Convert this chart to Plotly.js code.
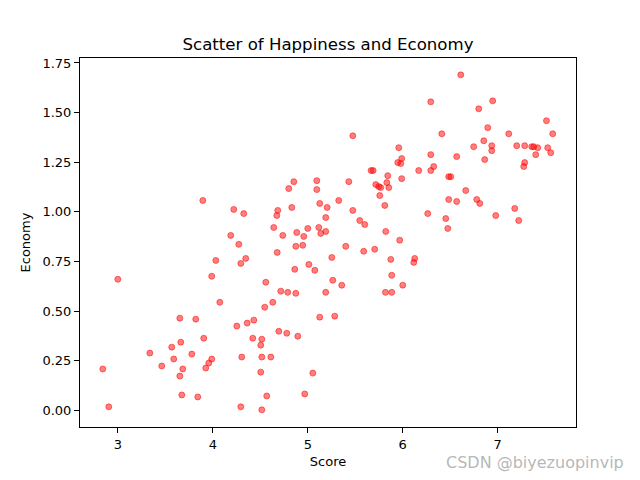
<!DOCTYPE html>
<html>
<head>
<meta charset="utf-8">
<script src="https://cdn.plot.ly/plotly-3.0.1.min.js"></script>
<style>html,body{margin:0;padding:0;background:#fff;}#chart{width:640px;height:480px;}</style>
</head>
<body>
<div id="chart"></div>
<script>
// Happiness score (x) and Economy (GDP per capita) (y)
const score = [
  4.274, 4.032, 4.347, 4.295, 3.000, 3.989, 4.074, 3.653, 3.821, 4.253,
  4.362, 3.663, 3.568, 3.905, 3.337, 3.589, 3.779, 3.989, 3.958, 3.926,
  4.305, 3.463, 3.684, 2.842, 3.653, 3.674, 3.842, 2.905, 4.295, 4.874,
  4.947, 5.400, 4.678, 5.253, 5.589, 5.705, 5.968, 5.874, 5.011, 5.074,
  4.863, 5.884, 4.558, 5.263, 5.358, 6.000, 4.716, 4.789, 4.874, 5.189,
  5.818, 5.884, 4.632, 4.547, 5.126, 5.284, 4.432, 4.695, 4.779, 4.895,
  4.421, 4.516, 4.505, 4.516, 4.611, 4.505, 5.053, 4.568, 4.968, 4.516,
  4.853, 5.095, 4.800, 5.095, 3.895, 4.221, 4.326, 4.684, 4.674, 4.832,
  5.126, 5.204, 5.189, 4.642, 4.737, 4.884, 5.000, 5.116, 5.137, 5.189,
  4.958, 4.189, 6.295, 6.411, 5.474, 5.958, 6.295, 5.989, 5.947, 5.979,
  6.168, 6.295, 6.326, 5.688, 5.667, 5.842, 5.989, 6.484, 5.432, 5.716,
  5.747, 5.768, 5.832, 5.853, 5.758, 5.811, 5.326, 5.474, 5.547, 5.600,
  6.263, 6.453, 6.474, 5.821, 6.611, 6.947, 6.800, 7.513, 7.579, 7.116,
  6.895, 6.853, 6.937, 6.937, 6.747, 7.200, 7.284, 7.358, 7.379, 7.421,
  7.526, 7.558, 7.400, 6.568, 6.863, 7.284, 7.274, 6.505, 6.663, 6.484,
  6.568, 6.779, 6.811, 6.979, 7.179, 7.221, 6.126, 6.116
];
const economy = [
  0.836, 0.755, 0.765, 0.740, 0.660, 0.675, 0.544, 0.464, 0.459, 0.424,
  0.439, 0.343, 0.318, 0.363, 0.288, 0.258, 0.283, 0.258, 0.238, 0.213,
  0.268, 0.223, 0.208, 0.208, 0.172, 0.077, 0.067, 0.017, 0.017, 0.826,
  0.831, 0.826, 0.795, 0.770, 0.801, 0.811, 0.857, 0.760, 0.735, 0.705,
  0.710, 0.680, 0.645, 0.655, 0.630, 0.630, 0.600, 0.594, 0.589, 0.594,
  0.594, 0.594, 0.544, 0.519, 0.469, 0.474, 0.454, 0.398, 0.388, 0.373,
  0.363, 0.358, 0.328, 0.268, 0.268, 0.192, 0.187, 0.072, 0.082, 0.002,
  1.152, 1.157, 1.117, 1.112, 1.057, 1.012, 0.991, 1.007, 0.981, 1.022,
  1.042, 1.022, 0.971, 0.921, 0.881, 0.896, 0.916, 0.921, 0.891, 0.901,
  0.876, 0.881, 1.554, 1.393, 1.383, 1.323, 1.288, 1.268, 1.248, 1.243,
  1.208, 1.208, 1.228, 1.208, 1.208, 1.182, 1.167, 1.177, 1.152, 1.137,
  1.127, 1.122, 1.147, 1.122, 1.082, 1.032, 1.057, 1.007, 0.956, 0.936,
  0.991, 0.966, 0.916, 0.901, 1.690, 1.559, 1.519, 1.459, 1.393, 1.393,
  1.424, 1.358, 1.333, 1.308, 1.328, 1.333, 1.333, 1.328, 1.328, 1.323,
  1.323, 1.298, 1.288, 1.278, 1.263, 1.248, 1.228, 1.177, 1.107, 1.062,
  1.052, 1.062, 1.042, 0.981, 1.017, 0.956, 0.765, 0.745
];
const yTicks = [0, 0.25, 0.5, 0.75, 1.0, 1.25, 1.5, 1.75];
const xTicks = [3, 4, 5, 6, 7];

const font = "DejaVu Sans, Liberation Sans, sans-serif";

const trace = {
  type: "scatter",
  mode: "markers",
  x: score,
  y: economy,
  marker: {
    color: "rgba(255,0,0,0.5)",
    size: 6,
    line: {color: "rgba(255,0,0,0.5)", width: 1}
  },
  hoverinfo: "x+y"
};

const axisCommon = {
  showgrid: false,
  zeroline: false,
  showline: true,
  mirror: true,
  linecolor: "#000",
  linewidth: 1,
  ticks: "outside",
  ticklen: 5,
  tickwidth: 1,
  tickcolor: "#000",
  tickfont: {family: font, size: 13, color: "#000"},
  automargin: false
};

const layout = {
  width: 640,
  height: 480,
  paper_bgcolor: "#fff",
  plot_bgcolor: "#fff",
  showlegend: false,
  margin: {l: 80, r: 64, t: 58, b: 53, pad: 0},
  title: {
    text: "Scatter of Happiness and Economy",
    font: {family: font, size: 16.6, color: "#000"},
    xref: "paper", x: 0.5, xanchor: "center",
    yref: "container", y: 1 - 44 / 480, yanchor: "middle"
  },
  xaxis: Object.assign({}, axisCommon, {
    range: [2.602, 7.824],
    tickvals: xTicks,
    ticktext: xTicks.map(String),
    title: {text: "Score", font: {family: font, size: 13, color: "#000"}, standoff: 6}
  }),
  yaxis: Object.assign({}, axisCommon, {
    range: [-0.0845, 1.775],
    tickvals: yTicks,
    ticktext: yTicks.map(v => v.toFixed(2)),
    title: {text: "Economy", font: {family: font, size: 13, color: "#000"}, standoff: 8}
  }),
  annotations: [{
    text: "CSDN @biyezuopinvip",
    xref: "paper", yref: "paper",
    x: 1.1, y: -0.095, xanchor: "right", yanchor: "middle",
    showarrow: false,
    font: {family: font, size: 16, color: "rgba(170,170,170,0.85)"}
  }]
};

Plotly.newPlot("chart", [trace], layout, {displayModeBar: false, staticPlot: true});
</script>
</body>
</html>
